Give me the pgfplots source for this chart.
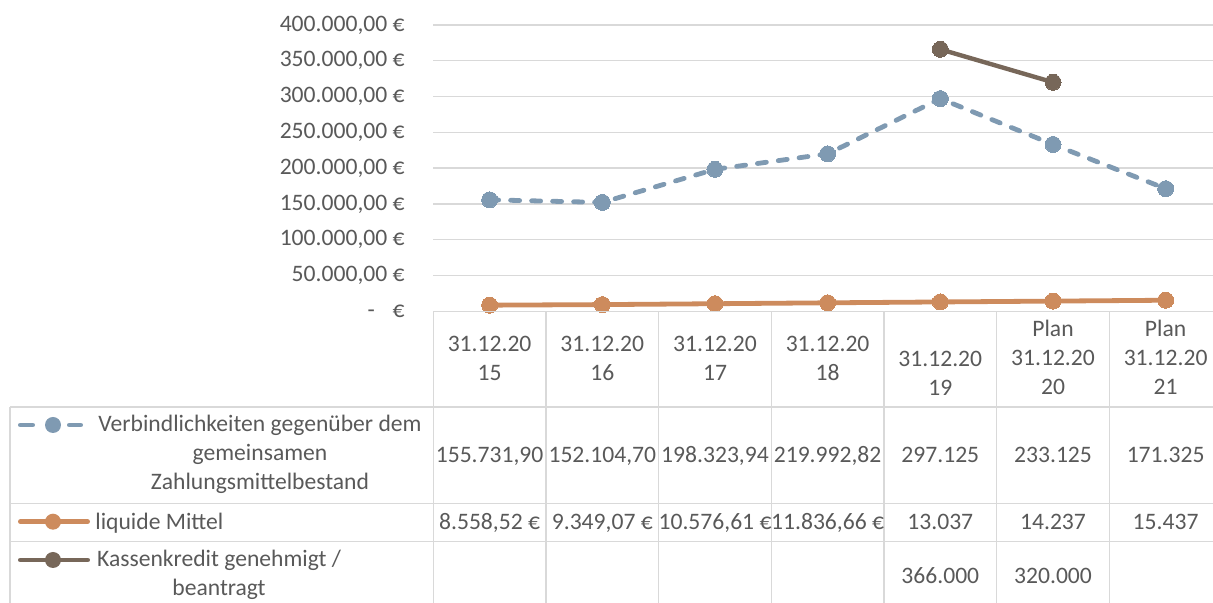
\documentclass[border=0pt]{standalone}
\usepackage{pgfplots}
\pgfplotsset{compat=1.18}
\usepackage{fontspec}
\setmainfont{Carlito}
\definecolor{txt}{HTML}{595959}
\definecolor{grd}{HTML}{D9D9D9}
\definecolor{cblue}{HTML}{7F9AB2}
\definecolor{corange}{HTML}{CD8B5D}
\definecolor{cbrown}{HTML}{776759}
\newcommand{\fs}{\fontsize{11.8pt}{14.5pt}\selectfont}
\begin{document}
\begin{tikzpicture}
\useasboundingbox (0,0) rectangle (606.5pt,301.5pt);
\begin{axis}[
  at={(216.65pt,145.85pt)}, anchor=south west,
  scale only axis, width=394.35pt, height=143.15pt,
  xmin=-0.5, xmax=6.5, ymin=0, ymax=400000,
  xtick=\empty,
  ytick={0,50000,100000,150000,200000,250000,300000,350000,400000},
  yticklabels={{-\hspace{0.75em}€},{50.000,00 €},{100.000,00 €},{150.000,00 €},{200.000,00 €},{250.000,00 €},{300.000,00 €},{350.000,00 €},{400.000,00 €}},
  scaled y ticks=false,
  axis line style={draw=none},
  major tick length=0pt,
  ymajorgrids, grid style={grd, line width=0.65pt},
  yticklabel style={anchor=east, inner sep=0pt, xshift=-14.15pt, font=\fs, text=txt},
  clip=false,
]
\addplot[cblue, line width=2.4pt, dash pattern=on 4.5pt off 6pt, line cap=round,
  mark=*, mark size=4pt, mark options={solid, fill=cblue, draw=cblue, line width=0pt}]
  coordinates {(0,155731.90) (1,152104.70) (2,198323.94) (3,219992.82) (4,297125) (5,233125) (6,171325)};
\addplot[corange, line width=2.4pt, line cap=round,
  mark=*, mark size=4pt, mark options={solid, fill=corange, draw=corange, line width=0pt}]
  coordinates {(0,8558.52) (1,9349.07) (2,10576.61) (3,11836.66) (4,13037) (5,14237) (6,15437)};
\addplot[cbrown, line width=2.2pt, line cap=round,
  mark=*, mark size=4pt, mark options={solid, fill=cbrown, draw=cbrown, line width=0pt}]
  coordinates {(4,366000) (5,320000)};
\end{axis}
\begin{scope}[shift={(0,301.5pt)}, x=0.5pt, y=-0.5pt]
  \tikzset{t/.style={anchor=base, font=\fs, text=txt, inner sep=0pt}}
  % table lines
  \draw[grd, line width=0.65pt] (433.3,311.3) -- (1213,311.3);
  \draw[grd, line width=0.65pt] (10,407) -- (1213,407);
  \draw[grd, line width=0.65pt] (10,503.3) -- (1213,503.3);
  \draw[grd, line width=0.65pt] (10,541.7) -- (1213,541.7);
  \draw[grd, line width=0.65pt] (10,407) -- (10,610);
  \foreach \k in {0,...,6} {
    \draw[grd, line width=0.65pt] ({433.3+112.67*\k},311.3) -- ({433.3+112.67*\k},610);
  }
  % header
  \foreach \cx/\yr in {489.6/15,602.3/16,715.0/17,827.6/18} {
    \node[t] at (\cx,351.5) {31.12.20};
    \node[t] at (\cx,380.3) {\yr};
  }
  \node[t] at (940.3,366.7) {31.12.20};
  \node[t] at (940.3,395.3) {19};
  \foreach \cx/\yr in {1053.0/20,1165.6/21} {
    \node[t] at (\cx,336.7) {Plan};
    \node[t] at (\cx,365.7) {31.12.20};
    \node[t] at (\cx,395.0) {\yr};
  }
  % row 1
  \draw[cblue, line width=2.4pt, line cap=round] (20.4,425) -- (32.6,425);
  \draw[cblue, line width=2.4pt, line cap=round] (69.4,425) -- (80.6,425);
  \fill[cblue] (53,425) circle[radius=4pt];
  \node[t] at (260,431.7) {Verbindlichkeiten gegenüber dem};
  \node[t] at (260,460.7) {gemeinsamen};
  \node[t] at (260,489.7) {Zahlungsmittelbestand};
  \node[t] at (489.6,462.4) {155.731,90};
  \node[t] at (602.3,462.4) {152.104,70};
  \node[t] at (715.0,462.4) {198.323,94};
  \node[t] at (827.6,462.4) {219.992,82};
  \node[t] at (940.3,462.4) {297.125};
  \node[t] at (1053.0,462.4) {233.125};
  \node[t] at (1165.6,462.4) {171.325};
  % row 2
  \draw[corange, line width=2.4pt, line cap=round] (20.4,521.7) -- (87.6,521.7);
  \fill[corange] (53,521.7) circle[radius=4pt];
  \node[t, anchor=base west] at (95,529.3) {liquide Mittel};
  \node[t] at (489.6,529.2) {8.558,52 €};
  \node[t] at (602.3,529.2) {9.349,07 €};
  \node[t] at (715.0,529.2) {10.576,61 €};
  \node[t] at (827.6,529.2) {11.836,66 €};
  \node[t] at (940.3,529.2) {13.037};
  \node[t] at (1053.0,529.2) {14.237};
  \node[t] at (1165.6,529.2) {15.437};
  % row 3
  \draw[cbrown, line width=2.4pt, line cap=round] (20.4,560) -- (87.6,560);
  \fill[cbrown] (53,560) circle[radius=4pt];
  \node[t] at (219,566.7) {Kassenkredit genehmigt /};
  \node[t] at (219,596) {beantragt};
  \node[t] at (940.3,583.4) {366.000};
  \node[t] at (1053.0,583.4) {320.000};
\end{scope}
\end{tikzpicture}
\end{document}
